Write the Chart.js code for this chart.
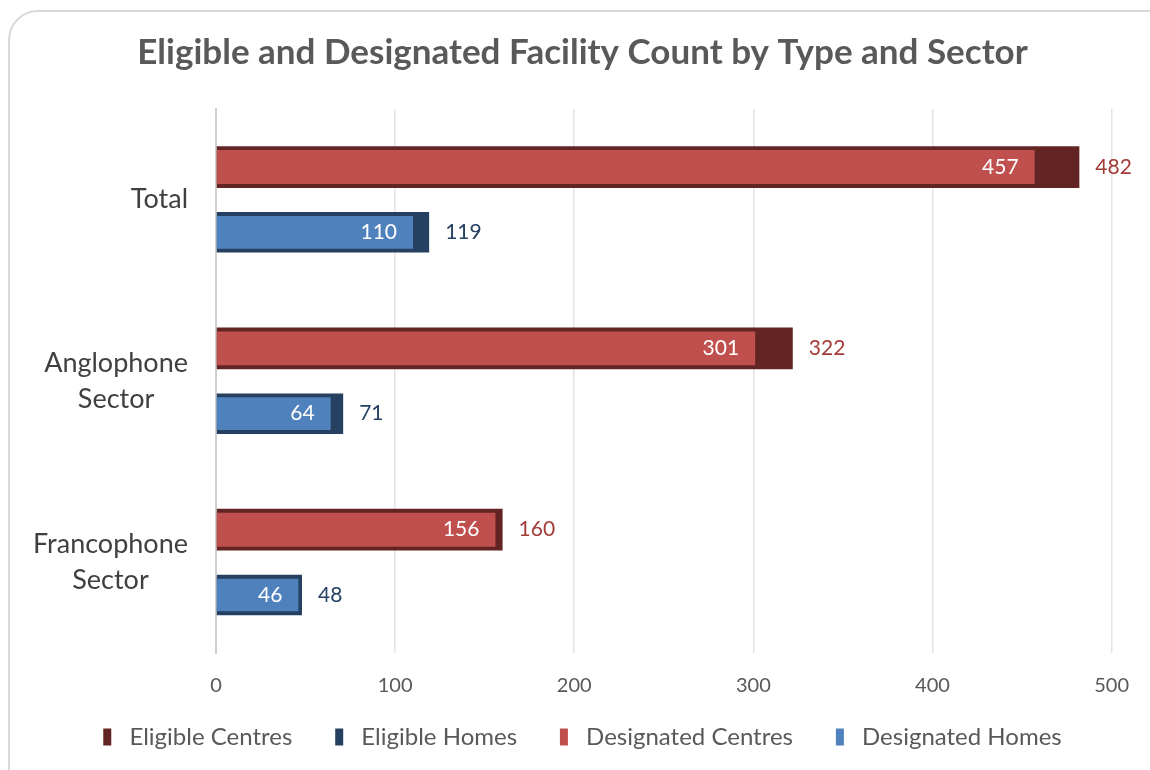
<!DOCTYPE html>
<html>
<head>
<meta charset="utf-8">
<title>Eligible and Designated Facility Count</title>
<script src="https://cdn.jsdelivr.net/npm/chart.js"></script>
<style>
  html, body { margin: 0; padding: 0; background: #fff; overflow: hidden; }
  #wrap { position: relative; width: 1150px; height: 770px; }
  #frame {
    position: absolute; left: 8px; top: 10px; width: 1170px; height: 790px;
    border: 2px solid #d9d9d9; border-radius: 30px; box-sizing: border-box;
  }
  canvas { position: absolute; left: 0; top: 0; }
</style>
</head>
<body>
<div id="wrap">
  <div id="frame"></div>
  <canvas id="chart" width="1150" height="770"></canvas>
</div>
<script>
// data
const categories = [['Total'], ['Anglophone', 'Sector'], ['Francophone', 'Sector']];
const eligibleCentres = [482, 322, 160];
const eligibleHomes = [119, 71, 48];
const designatedCentres = [457, 301, 156];
const designatedHomes = [110, 64, 46];
const xTicks = [0, 100, 200, 300, 400, 500];

const FONT = 'Lato, "Open Sans", sans-serif';
const GREY = '#595959';

// labels on the bars: designated inside the end, eligible just past it
const barLabels = {
  id: 'barLabels',
  afterDatasetsDraw(chart) {
    const ctx = chart.ctx;
    ctx.save();
    ctx.font = '21px ' + FONT;
    ctx.textBaseline = 'middle';
    chart.data.datasets.forEach((ds, i) => {
      const meta = chart.getDatasetMeta(i);
      meta.data.forEach((bar, j) => {
        const v = ds.data[j];
        if (ds.inside) {
          ctx.fillStyle = '#ffffff';
          ctx.textAlign = 'right';
          ctx.fillText(v, bar.x - 16, bar.y);
        } else {
          ctx.fillStyle = ds.labelColor;
          ctx.textAlign = 'left';
          ctx.fillText(v, bar.x + 16, bar.y);
        }
      });
    });
    ctx.restore();
  }
};

// category labels: block right-aligned to the axis, lines centred inside it
const catLabels = {
  id: 'catLabels',
  afterDraw(chart) {
    const ctx = chart.ctx;
    const y = chart.scales.y;
    ctx.save();
    ctx.font = '27px ' + FONT;
    ctx.fillStyle = '#404040';
    ctx.textAlign = 'center';
    ctx.textBaseline = 'middle';
    const right = y.right - 28;
    const lh = 36;
    categories.forEach((lines, i) => {
      const cy = y.getPixelForTick(i);
      const w = Math.max(...lines.map(t => ctx.measureText(t).width));
      const cx = right - w / 2;
      const top = cy - (lines.length - 1) * lh / 2;
      lines.forEach((t, k) => ctx.fillText(t, cx, top + k * lh));
    });
    ctx.restore();
  }
};

new Chart(document.getElementById('chart'), {
  type: 'bar',
  data: {
    labels: categories,
    datasets: [
      { label: 'Eligible Centres', data: eligibleCentres, stack: 'c', order: 1,
        backgroundColor: '#632523', barPercentage: 0.64, labelColor: '#a33b38' },
      { label: 'Eligible Homes', data: eligibleHomes, stack: 'h', order: 1,
        backgroundColor: '#254061', barPercentage: 0.62, labelColor: '#254061' },
      { label: 'Designated Centres', data: designatedCentres, stack: 'c', order: 0,
        backgroundColor: '#c0504d', barPercentage: 0.52, inside: true },
      { label: 'Designated Homes', data: designatedHomes, stack: 'h', order: 0,
        backgroundColor: '#4f81bd', barPercentage: 0.5, inside: true }
    ]
  },
  options: {
    indexAxis: 'y',
    responsive: false,
    animation: false,
    layout: { padding: { left: 48, right: 33, top: 10, bottom: 11 } },
    datasets: { bar: { categoryPercentage: 0.72 } },
    scales: {
      x: {
        stacked: false,
        min: 0, max: 500,
        afterBuildTicks: (s) => { s.ticks = xTicks.map(v => ({ value: v })); },
        grid: { color: '#e3e3e3', lineWidth: 1.5, drawTicks: false },
        border: { display: false },
        ticks: { color: GREY, font: { family: FONT, size: 20 }, padding: 21 }
      },
      y: {
        afterFit: (s) => { s.width = 168; },
        grid: { display: false },
        border: { color: '#cfcfcf', width: 2 },
        ticks: { display: false }
      }
    },
    plugins: {
      title: {
        display: true,
        text: 'Eligible and Designated Facility Count by Type and Sector',
        color: GREY,
        font: { family: FONT, size: 35, weight: 'bold' },
        padding: { top: 22, bottom: 35 }
      },
      legend: {
        position: 'bottom',
        labels: {
          color: GREY,
          font: { family: FONT, size: 24 },
          boxWidth: 8, boxHeight: 17,
          padding: 6,
          sort: (a, b) => a.datasetIndex - b.datasetIndex,
          generateLabels: (chart) => {
            const items = Chart.defaults.plugins.legend.labels.generateLabels(chart);
            const last = chart.data.datasets.length - 1;
            items.forEach(it => {
              it.text = ' ' + it.text + (it.datasetIndex < last ? '      ' : '');
            });
            return items;
          }
        }
      },
      tooltip: { enabled: false }
    }
  },
  plugins: [barLabels, catLabels]
});
</script>
</body>
</html>
